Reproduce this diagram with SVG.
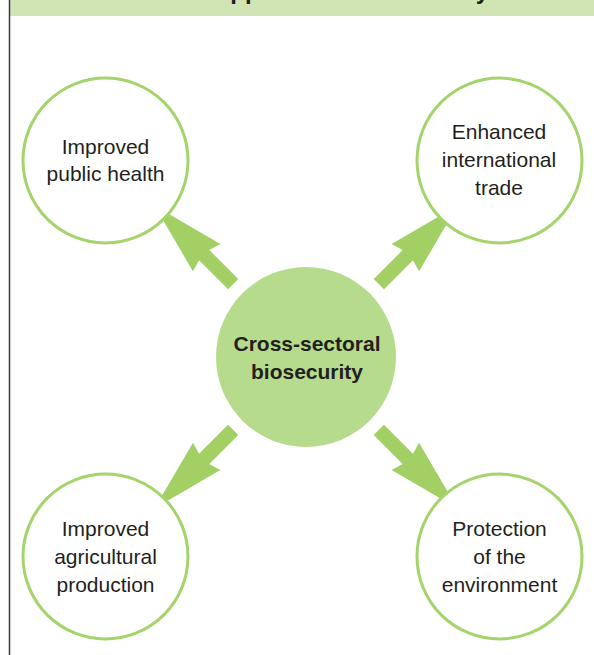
<svg xmlns="http://www.w3.org/2000/svg" width="594" height="655" viewBox="0 0 594 655">
  <style>
    .outer { fill: #ffffff; stroke: #a5d36c; stroke-width: 3; }
    .center { fill: #b7db8d; }
    .arrow { fill: #a2d064; }
    .lbl { font-family: "Liberation Sans", Arial, Helvetica, sans-serif; font-size: 21px; fill: #231f20; text-anchor: middle; }
    .bold { font-weight: bold; }
    .title { font-family: "Liberation Sans", Arial, Helvetica, sans-serif; font-size: 24px; font-weight: bold; fill: #231f20; }
  </style>
  <defs>
    <path id="arr" d="M103,-7.2 L144,-7.2 L140.5,-19.4 L214,0 L140.5,19.4 L144,7.2 L103,7.2 Z"/>
  </defs>
  <rect x="0" y="0" width="594" height="655" fill="#ffffff"/>
  <g id="header">
    <rect x="9.5" y="0" width="585" height="16" fill="#d0e5b3"/>
    <text class="title" x="217" y="-1.5">approach to biosecurity</text>
  </g>
  <line x1="9.5" y1="0" x2="9.5" y2="655" stroke="#3a3a3a" stroke-width="1.5"/>

  <g id="connectors">
    <use href="#arr" class="arrow" transform="translate(306,357) rotate(-135)"/>
    <use href="#arr" class="arrow" transform="translate(306,357) rotate(-45)"/>
    <use href="#arr" class="arrow" transform="translate(306,357) rotate(135)"/>
    <use href="#arr" class="arrow" transform="translate(306,357) rotate(45)"/>
  </g>

  <g id="node-center">
    <circle class="center" cx="306" cy="357" r="90"/>
    <text class="lbl bold" x="307" y="350.5">Cross-sectoral</text>
    <text class="lbl bold" x="307" y="378.5">biosecurity</text>
  </g>

  <g id="node-health">
    <circle class="outer" cx="105.5" cy="160.5" r="82.5"/>
    <text class="lbl" x="105.5" y="153.5">Improved</text>
    <text class="lbl" x="105.5" y="181">public health</text>
  </g>

  <g id="node-trade">
    <circle class="outer" cx="499.5" cy="160.5" r="82.5"/>
    <text class="lbl" x="499" y="139">Enhanced</text>
    <text class="lbl" x="499" y="167">international</text>
    <text class="lbl" x="499" y="194.5">trade</text>
  </g>

  <g id="node-agri">
    <circle class="outer" cx="105.5" cy="556.5" r="82.5"/>
    <text class="lbl" x="105.5" y="536">Improved</text>
    <text class="lbl" x="105.5" y="564">agricultural</text>
    <text class="lbl" x="105.5" y="592">production</text>
  </g>

  <g id="node-env">
    <circle class="outer" cx="499.5" cy="556.5" r="82.5"/>
    <text class="lbl" x="499.5" y="536">Protection</text>
    <text class="lbl" x="499.5" y="564">of the</text>
    <text class="lbl" x="499.5" y="592">environment</text>
  </g>
</svg>
